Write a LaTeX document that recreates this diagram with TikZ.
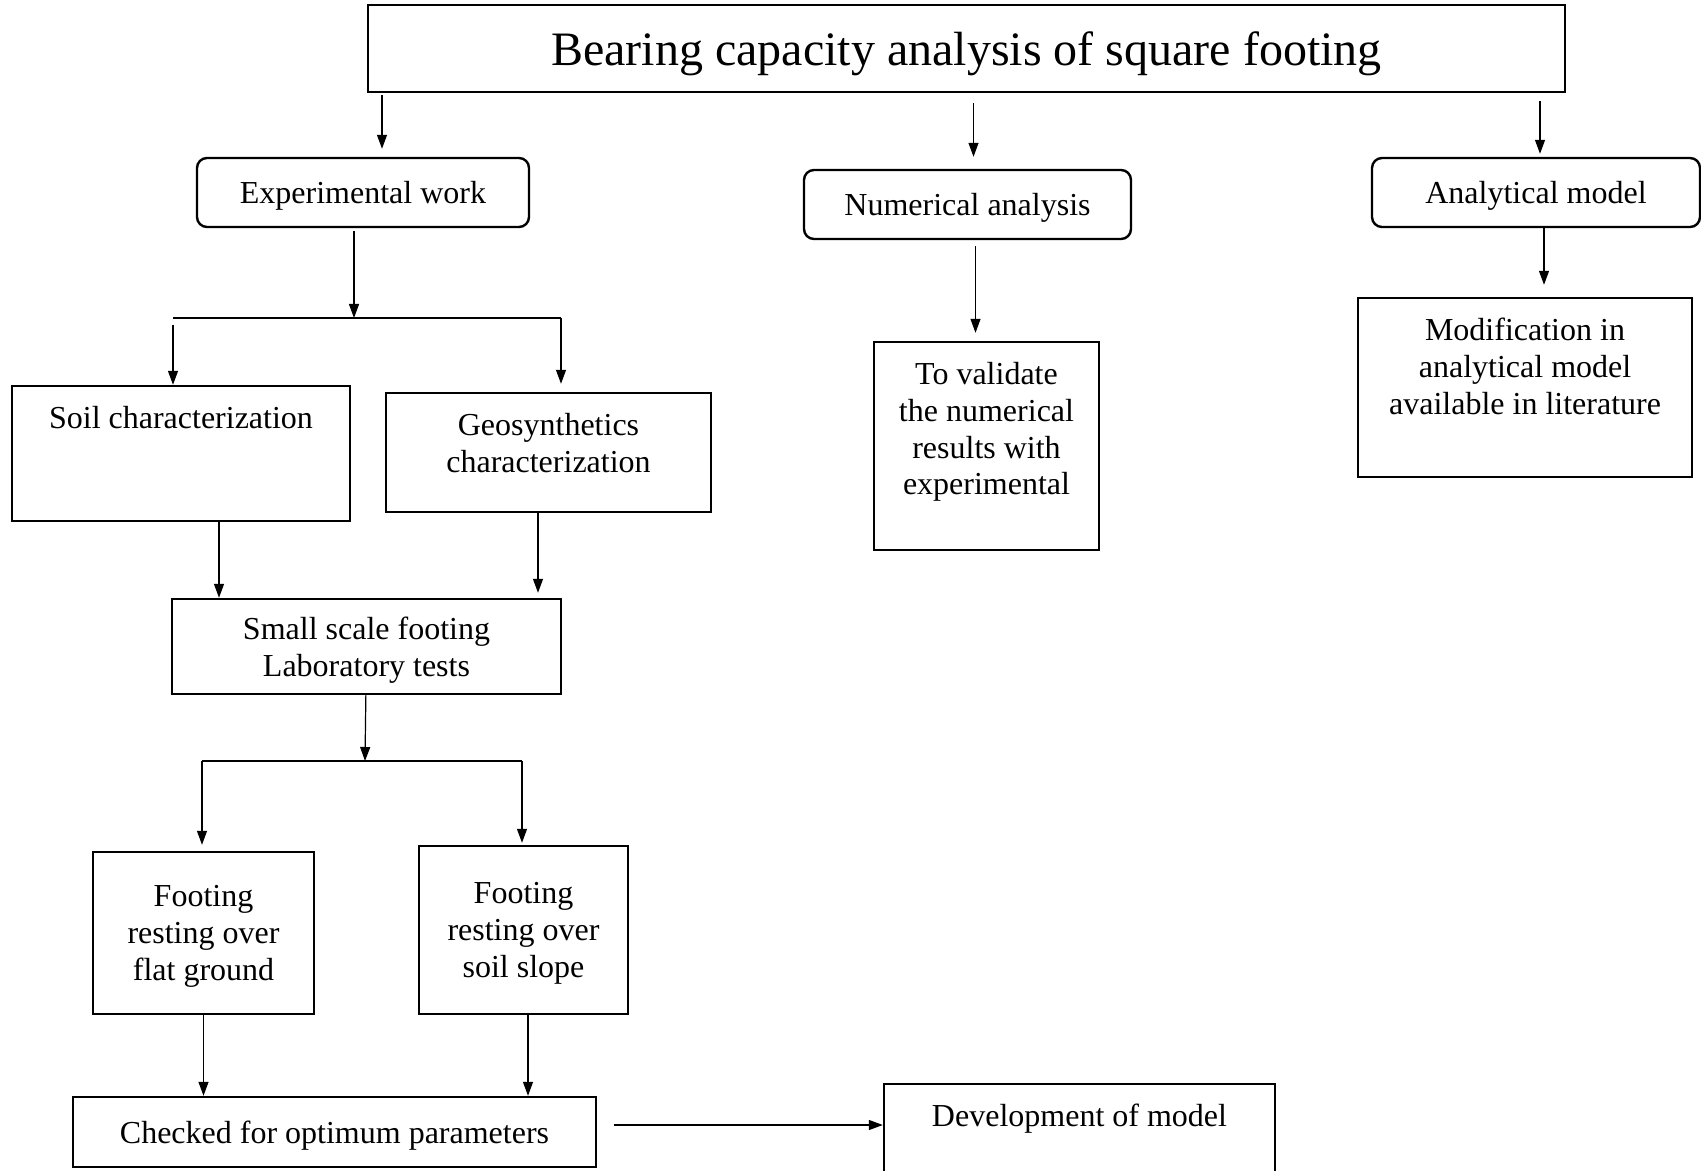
\documentclass[tikz,border=0pt]{standalone}
\usepackage{fontspec}
\setmainfont{Liberation Serif}
\usetikzlibrary{arrows.meta, positioning}

\begin{document}
\begin{tikzpicture}[
    x=0.5pt, y=-0.5pt,
    box/.style={rectangle, draw, line width=1.2pt, align=center, inner sep=0pt, text depth=0pt, font=\fontsize{16}{18.4}\selectfont},
    roundbox/.style={box, rounded corners=5pt},
    toplabel/.style={anchor=north, yshift=-10.5pt, inner sep=0pt, align=center, font=\fontsize{16}{18.4}\selectfont},
    arrow/.style={-{Triangle[length=7pt,width=5pt]}, line width=0.6pt},
    line/.style={line width=0.6pt}
]
\useasboundingbox (0,0) rectangle (1701,1171);

% Title
\node[box, minimum width=598.5pt, minimum height=43.5pt, font=\fontsize{24}{28}\selectfont] (title) at (966.5,48.5) {Bearing capacity analysis of square footing};

% Three branches
\node[roundbox, minimum width=166pt, minimum height=34.5pt] (expwork) at (363,192.5) {Experimental work};
\node[roundbox, minimum width=163.5pt, minimum height=34.5pt] (numanalysis) at (967.5,204.5) {Numerical analysis};
\node[roundbox, minimum width=164pt, minimum height=34.5pt] (anamodel) at (1536,192.5) {Analytical model};

% Right column
\node[box, minimum width=167pt, minimum height=89.5pt, label={[toplabel]north:Modification in\\analytical model\\available in literature}] (modlit) at (1525,387.5) {};

% Middle column
\node[box, minimum width=112.5pt, minimum height=104pt, label={[toplabel]north:To validate\\the numerical\\results with\\experimental}] (validate) at (986.5,446) {};

% Characterization
\node[box, minimum width=169pt, minimum height=67.5pt, label={[toplabel]north:Soil characterization}] (soilchar) at (181,453.5) {};
\node[box, minimum width=162.5pt, minimum height=59.5pt, label={[toplabel]north:Geosynthetics\\characterization}] (geochar) at (548.5,452.5) {};

% Laboratory tests
\node[box, minimum width=194.5pt, minimum height=47.5pt] (smallscale) at (366.5,646.5) {Small scale footing\\Laboratory tests};

% Test cases
\node[box, minimum width=110.5pt, minimum height=81pt] (flatground) at (203.5,933) {Footing\\resting over\\flat ground};
\node[box, minimum width=104.5pt, minimum height=84pt] (soilslope) at (523.5,930) {Footing\\resting over\\soil slope};

% Bottom row
\node[box, minimum width=261.5pt, minimum height=35pt] (optimum) at (334.5,1132) {Checked for optimum parameters};
\node[box, minimum width=195.5pt, minimum height=58pt, label={[toplabel]north:Development of model}] (devmodel) at (1079.5,1142) {};

% Fork points
\coordinate (forkA) at (354,318);
\coordinate (forkAl) at (173,318);
\coordinate (forkAr) at (561,318);
\coordinate (forkB) at (365,761);
\coordinate (forkBl) at (202,761);
\coordinate (forkBr) at (522,761);

% Arrows from title
\draw[arrow, shorten <=1pt, shorten >=4pt] ([xshift=9.5pt]title.south -| expwork.north) -- ([xshift=9.5pt]expwork.north);
\draw[arrow, shorten <=5pt, shorten >=6pt] ([xshift=3pt]title.south -| numanalysis.north) -- ([xshift=3pt]numanalysis.north);
\draw[arrow, shorten <=4pt, shorten >=1.5pt] ([xshift=2pt]title.south -| anamodel.north) -- ([xshift=2pt]anamodel.north);

% Experimental branch
\draw[arrow, shorten <=1.5pt] ([xshift=-4.5pt]expwork.south) -- (forkA);
\draw[line] (forkAl) -- (forkAr);
\draw[arrow, shorten <=3.5pt] (forkAl) -- (forkAl |- soilchar.north);
\draw[arrow, shorten >=4pt] (forkAr) -- (forkAr |- geochar.north);
\draw[arrow] ([xshift=19pt]soilchar.south) -- ([xshift=19pt]soilchar.south |- smallscale.north);
\draw[arrow, shorten >=2.5pt] ([xshift=-5.25pt]geochar.south) -- ([xshift=-5.25pt]geochar.south |- smallscale.north);
\draw[arrow] (smallscale) -- (forkB);
\draw[line] (forkBl) -- (forkBr);
\draw[arrow, shorten >=3pt] (forkBl) -- (forkBl |- flatground.north);
\draw[arrow, shorten >=1pt] (forkBr) -- (forkBr |- soilslope.north);
\draw[arrow] (flatground) -- (flatground |- optimum.north);
\draw[arrow] ([xshift=2.25pt]soilslope.south) -- ([xshift=2.25pt]soilslope.south |- optimum.north);
\draw[arrow, shorten <=8.5pt] ([yshift=3.5pt]optimum.east) -- ([yshift=3.5pt]optimum.east -| devmodel.west);

% Numerical and analytical branches
\draw[arrow, shorten <=3pt, shorten >=4pt] ([xshift=4pt]numanalysis.south) -- ([xshift=4pt]numanalysis.south |- validate.north);
\draw[arrow, shorten >=6pt] ([xshift=4pt]anamodel.south) -- ([xshift=4pt]anamodel.south |- modlit.north);

\end{tikzpicture}
\end{document}
